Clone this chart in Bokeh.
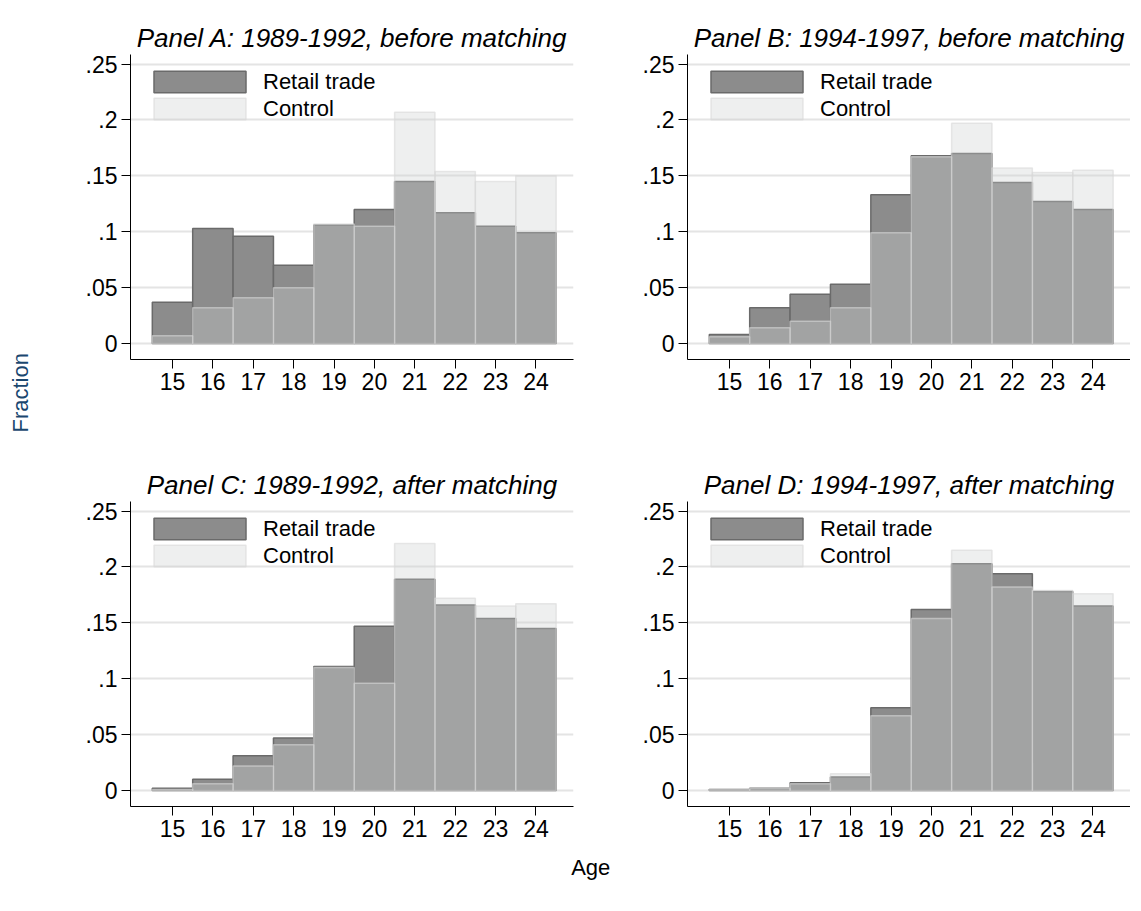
from bokeh.embed import file_html
from bokeh.resources import INLINE
from bokeh.layouts import column, row
from bokeh.plotting import figure
from bokeh.models import FixedTicker, Legend, LegendItem, Label

ages = [15, 16, 17, 18, 19, 20, 21, 22, 23, 24]

titles = ["Panel A: 1989-1992, before matching",
          "Panel B: 1994-1997, before matching",
          "Panel C: 1989-1992, after matching",
          "Panel D: 1994-1997, after matching"]

retail_a = [.037, .103, .096, .070, .106, .120, .145, .117, .105, .099]
control_a = [.007, .032, .041, .050, .107, .105, .207, .154, .145, .150]
retail_b = [.008, .032, .044, .053, .133, .168, .170, .144, .127, .120]
control_b = [.006, .014, .020, .032, .099, .167, .197, .157, .153, .155]
retail_c = [.002, .010, .031, .047, .111, .147, .189, .166, .154, .145]
control_c = [.001, .006, .022, .041, .110, .096, .221, .172, .165, .167]
retail_d = [.001, .002, .007, .012, .074, .162, .203, .194, .178, .165]
control_d = [.001, .002, .006, .015, .067, .154, .215, .182, .179, .176]

y_ticks = [0, .05, .1, .15, .2, .25]
y_labels = ["0", ".05", ".1", ".15", ".2", ".25"]

FONT = "Liberation Sans"


def panel(title, retail, control, right_border, bottom_border):
    p = figure(frame_width=443, frame_height=305,
               min_border_left=62, min_border_right=right_border,
               min_border_top=54, min_border_bottom=bottom_border,
               x_range=(13.96, 24.93), y_range=(-0.0143, 0.2586),
               output_backend="svg", toolbar_location=None)
    p.title.text = title
    p.title.text_font = FONT
    p.title.text_font_style = "italic"
    p.title.text_font_size = "26px"
    p.title.text_color = "black"
    p.title.align = "center"
    p.title.standoff = 4
    p.outline_line_color = None
    p.xgrid.grid_line_color = None
    p.ygrid.grid_line_color = "#e4e4e4"
    p.ygrid.grid_line_width = 2
    p.yaxis.ticker = FixedTicker(ticks=y_ticks)
    p.yaxis.major_label_overrides = dict(zip(y_ticks, y_labels))
    p.xaxis.ticker = FixedTicker(ticks=ages)
    p.yaxis.major_label_orientation = 0
    for ax in (p.xaxis, p.yaxis):
        ax.major_label_text_font = FONT
        ax.major_label_text_font_size = "23px"
        ax.major_label_text_color = "black"
        ax.axis_line_color = "black"
        ax.major_tick_line_color = "black"
        ax.major_tick_out = 9
        ax.major_tick_in = 0
        ax.major_label_standoff = 4
        ax.minor_tick_line_color = None

    r1 = p.vbar(x=ages, top=retail, width=1, bottom=0,
                fill_color="#8c8c8c", line_color="#6a6a6a", line_width=1.5)
    r2 = p.vbar(x=ages, top=control, width=1, bottom=0,
                fill_color="#cdd0cf", fill_alpha=0.34,
                line_color="#d8d8d8", line_alpha=0.6, line_width=1.5)
    legend = Legend(items=[LegendItem(label="Retail trade", renderers=[r1]),
                           LegendItem(label="Control", renderers=[r2])],
                    location=(12, 237), border_line_color=None,
                    background_fill_alpha=0, glyph_width=115, glyph_height=27,
                    label_text_font=FONT, label_text_font_size="22px",
                    label_text_color="black",
                    label_standoff=6, spacing=0, padding=5,
                    label_height=27)
    p.add_layout(legend, "center")
    return p


pa = panel(titles[0], retail_a, control_a, 52, 88)
pb = panel(titles[1], retail_b, control_b, 0, 88)
pc = panel(titles[2], retail_c, control_c, 52, 36)
pd = panel(titles[3], retail_d, control_d, 0, 36)

ylab = figure(width=68, height=840, x_range=(0, 1), y_range=(0, 1),
              output_backend="svg", toolbar_location=None, outline_line_color=None)
ylab.axis.visible = False
ylab.grid.visible = False
ylab.min_border = 0
ylab.add_layout(Label(x=0.3, y=0.533, text="Fraction", angle=1.5708,
                      text_align="center", text_baseline="middle",
                      text_font=FONT, text_font_size="22px", text_color="#1a476f"))

xlab = figure(width=1120, height=45, x_range=(0, 1), y_range=(0, 1),
              output_backend="svg", toolbar_location=None, outline_line_color=None)
xlab.axis.visible = False
xlab.grid.visible = False
xlab.min_border = 0
xlab.add_layout(Label(x=0.527, y=0.45, text="Age",
                      text_align="center", text_baseline="middle",
                      text_font=FONT, text_font_size="22px", text_color="black"))

layout = column(row(ylab, column(row(pa, pb), row(pc, pd))), xlab)
open("out.html", "w").write(file_html(layout, INLINE))
